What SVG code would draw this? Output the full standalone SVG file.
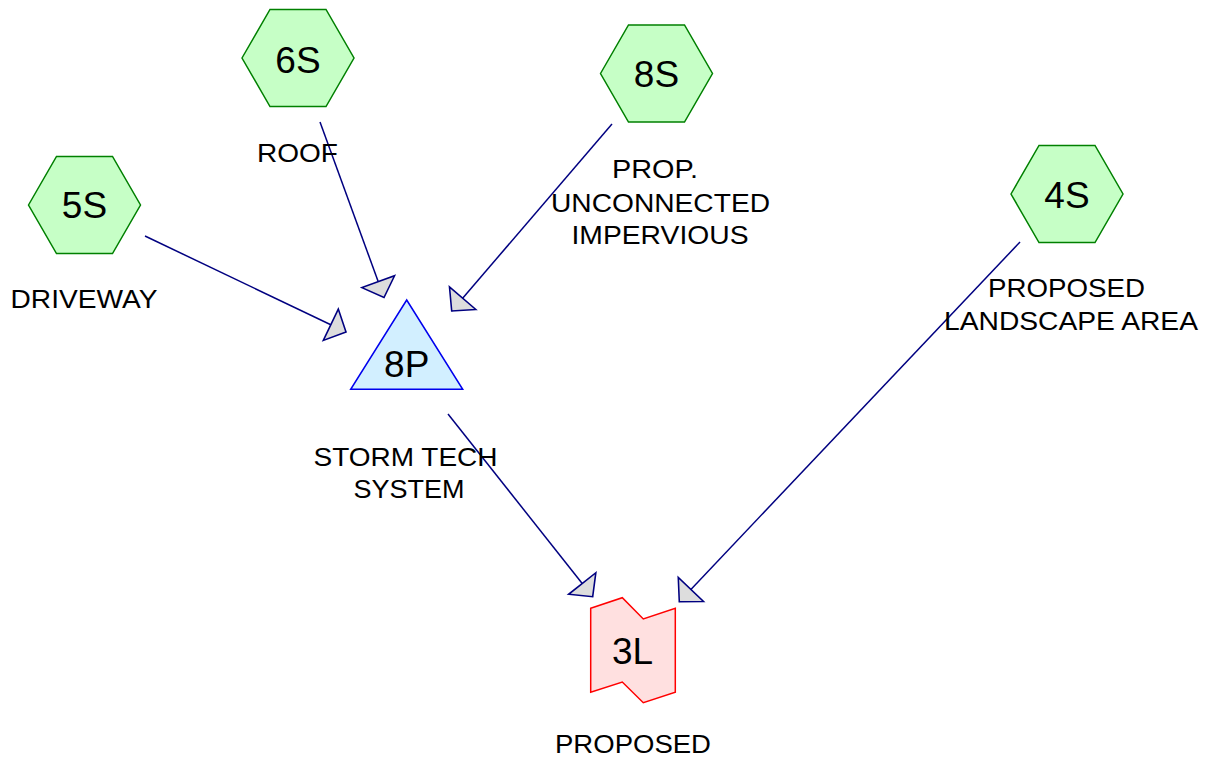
<svg xmlns="http://www.w3.org/2000/svg" width="1212" height="760" viewBox="0 0 1212 760">
  <style>
    .sub { fill: #c6ffc6; stroke: #008000; stroke-width: 1.5; }
    .pond { fill: #d2efff; stroke: #0000ee; stroke-width: 1.5; }
    .link { fill: #ffe0e0; stroke: #ff0000; stroke-width: 1.5; }
    .id { font-family: "Liberation Sans", Arial, sans-serif; font-size: 37px; fill: #000; text-anchor: middle; }
    .lbl { font-family: "Liberation Sans", Arial, sans-serif; font-size: 25.5px; fill: #000; }
    .flow { fill: none; stroke: #000080; stroke-width: 1.5; marker-end: url(#head); }
  </style>
  <defs>
    <marker id="head" markerUnits="userSpaceOnUse" markerWidth="40" markerHeight="40" viewBox="-2 -19 21 38" refX="16" refY="0" orient="auto" overflow="visible">
      <path d="M0,-16.5 L16,0 L0,16.5 Z" fill="#dddddd" stroke="#000080" stroke-width="1.5" stroke-linejoin="miter"/>
    </marker>
  </defs>

  <rect width="1212" height="760" fill="#ffffff"/>

  <!-- connectors -->
  <g id="connectors">
    <path class="flow" d="M145,236 L346,332"/>
    <path class="flow" d="M320,122 L384,297.5"/>
    <path class="flow" d="M612,124 L451.7,311"/>
    <path class="flow" d="M448,414 L592.7,596.7"/>
    <path class="flow" d="M1020,242 L679.3,601.7"/>
  </g>

  <!-- subcatchment 6S -->
  <g id="node-6S">
    <polygon class="sub" points="242,58 270,9.5 326,9.5 354,58 326,106.5 270,106.5"/>
    <text class="id" x="298" y="72.5">6S</text>
    <text class="lbl" x="257" y="162" textLength="81" lengthAdjust="spacingAndGlyphs">ROOF</text>
  </g>

  <!-- subcatchment 5S -->
  <g id="node-5S">
    <polygon class="sub" points="28.5,205 56.5,156.5 112.5,156.5 140.5,205 112.5,253.5 56.5,253.5"/>
    <text class="id" x="84.5" y="218">5S</text>
    <text class="lbl" x="10.5" y="308" textLength="147" lengthAdjust="spacingAndGlyphs">DRIVEWAY</text>
  </g>

  <!-- subcatchment 8S -->
  <g id="node-8S">
    <polygon class="sub" points="600.5,73.5 628.5,25 684.5,25 712.5,73.5 684.5,122 628.5,122"/>
    <text class="id" x="656.5" y="86.5">8S</text>
    <text class="lbl" x="612" y="178" textLength="86" lengthAdjust="spacingAndGlyphs">PROP.</text>
    <text class="lbl" x="551" y="211.5" textLength="219" lengthAdjust="spacingAndGlyphs">UNCONNECTED</text>
    <text class="lbl" x="571.5" y="244" textLength="177" lengthAdjust="spacingAndGlyphs">IMPERVIOUS</text>
  </g>

  <!-- subcatchment 4S -->
  <g id="node-4S">
    <polygon class="sub" points="1011,194 1039,145.5 1095,145.5 1123,194 1095,242.5 1039,242.5"/>
    <text class="id" x="1067" y="207.5">4S</text>
    <text class="lbl" x="988" y="297" textLength="157" lengthAdjust="spacingAndGlyphs">PROPOSED</text>
    <text class="lbl" x="944" y="330" textLength="254" lengthAdjust="spacingAndGlyphs">LANDSCAPE AREA</text>
  </g>

  <!-- pond 8P -->
  <g id="node-8P">
    <polygon class="pond" points="406.7,300 462.7,389.3 350.7,389.3"/>
    <text class="id" x="406.7" y="376.5">8P</text>
    <text class="lbl" x="313.5" y="465.5" textLength="184" lengthAdjust="spacingAndGlyphs">STORM TECH</text>
    <text class="lbl" x="353.5" y="498" textLength="111" lengthAdjust="spacingAndGlyphs">SYSTEM</text>
  </g>

  <!-- link 3L -->
  <g id="node-3L">
    <polygon class="link" points="590.7,608.3 622.3,597.7 643.3,619 675.3,608.3 675.3,692.3 643.3,702.7 622.3,682 590.7,692.3"/>
    <text class="id" x="632.5" y="663.5">3L</text>
    <text class="lbl" x="555" y="753" textLength="156" lengthAdjust="spacingAndGlyphs">PROPOSED</text>
  </g>
</svg>
